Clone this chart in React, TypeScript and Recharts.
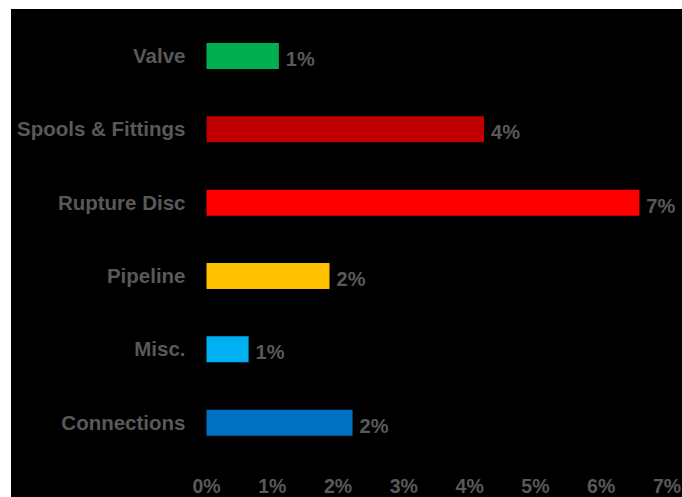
import { Bar, BarChart, Cell, LabelList, XAxis, YAxis } from "recharts"

const categories = ["Valve", "Spools & Fittings", "Rupture Disc", "Pipeline", "Misc.", "Connections"]
const shares = [1.1, 4.22, 6.58, 1.87, 0.64, 2.22]
const colors = ["#00B050", "#C00000", "#FF0000", "#FFC000", "#00B0F0", "#0070C0"]
const ticks = [0, 1, 2, 3, 4, 5, 6, 7]

const data = categories.map((name, i) => ({ name, value: shares[i], color: colors[i] }))

const font = "'Liberation Sans', Arial, sans-serif"
const gray = "#595959"

const renderLabel = (props: any) => {
  const { x, y, width, height, value } = props
  return (
    <text
      x={x + width + 7}
      y={y + height / 2 + 3}
      fill={gray}
      fontSize={20}
      fontWeight="bold"
      fontFamily={font}
      dominantBaseline="central"
    >
      {Math.round(value)}%
    </text>
  )
}

export default function App() {
  return (
    <div style={{ position: "absolute", left: 11, top: 9, width: 671, height: 488, background: "#000" }}>
      <BarChart
        width={671}
        height={488}
        data={data}
        layout="vertical"
        margin={{ top: 10, right: 15, bottom: 0, left: 0 }}
      >
        <XAxis
          type="number"
          domain={[0, 7]}
          ticks={ticks}
          tickFormatter={(v) => `${v}%`}
          axisLine={false}
          tickLine={false}
          tickSize={0}
          tickMargin={20}
          height={38}
          tick={{ fill: gray, fontSize: 19.5, fontWeight: "bold", fontFamily: font }}
        />
        <YAxis
          type="category"
          dataKey="name"
          width={195.5}
          axisLine={false}
          tickLine={false}
          tickSize={0}
          tickMargin={21}
          tick={{ fill: gray, fontSize: 20.5, fontWeight: "bold", fontFamily: font }}
        />
        <Bar dataKey="value" barSize={26} isAnimationActive={false}>
          {data.map((d, i) => (
            <Cell key={`cell-${i}`} fill={d.color} />
          ))}
          <LabelList dataKey="value" content={renderLabel} />
        </Bar>
      </BarChart>
    </div>
  )
}
